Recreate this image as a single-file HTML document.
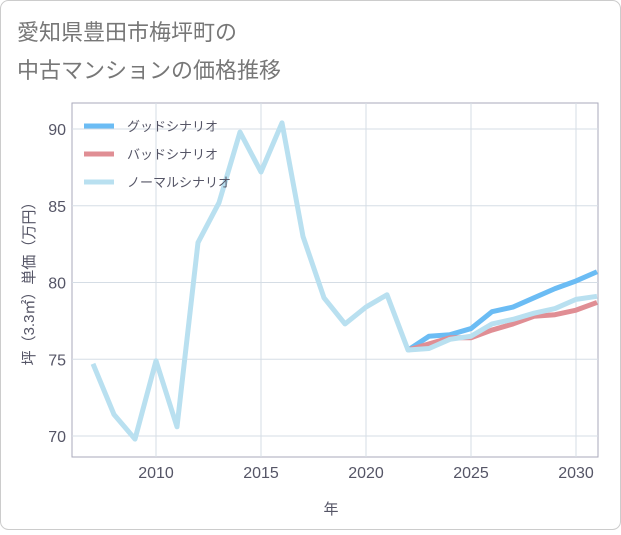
<!DOCTYPE html>
<html><head><meta charset="utf-8"><style>
body{margin:0;background:#fff;font-family:"Liberation Sans","Noto Sans CJK JP",sans-serif;}
#wrap{position:relative;width:621px;height:530px;}
</style></head><body>
<div id="wrap">
<svg id="svg" width="621" height="530" xmlns="http://www.w3.org/2000/svg" font-family="Liberation Sans, Noto Sans CJK JP, sans-serif">
<rect x="0.5" y="0.5" width="620" height="529" rx="8" fill="#fff" stroke="#ccc"/>
<text x="17" y="40" font-size="22" fill="#777">愛知県豊田市梅坪町の</text>
<text x="17" y="78" font-size="22" fill="#777">中古マンションの価格推移</text>
<rect x="72" y="103" width="526" height="354" fill="none" stroke="#aab"/>
<g id="grid"></g><g id="series"></g>
<text x="331" y="514" font-size="15" fill="#556" text-anchor="middle">年</text>
<text transform="translate(34,280) rotate(-90)" font-size="15" fill="#556" text-anchor="middle">坪（3.3㎡）単価（万円）</text>
<g>
<line x1="84" y1="126" x2="114" y2="126" stroke="#6bbcf4" stroke-width="5"/>
<text x="127" y="131" font-size="13" fill="#556">グッドシナリオ</text>
<line x1="84" y1="154" x2="114" y2="154" stroke="#e08e94" stroke-width="5"/>
<text x="127" y="159" font-size="13" fill="#556">バッドシナリオ</text>
<line x1="84" y1="182" x2="114" y2="182" stroke="#b9e0f0" stroke-width="5"/>
<text x="127" y="187" font-size="13" fill="#556">ノーマルシナリオ</text>
</g>
</svg></div>
<script>
const years=[2007,2008,2009,2010,2011,2012,2013,2014,2015,2016,2017,2018,2019,2020,2021,2022,2023,2024,2025,2026,2027,2028,2029,2030,2031];
const normal=[74.7,71.4,69.8,74.9,70.6,82.6,85.2,89.8,87.2,90.4,83.0,79.0,77.3,78.4,79.2,75.6,75.7,76.3,76.5,77.3,77.6,78.0,78.3,78.9,79.1];
const futureYears=[2022,2023,2024,2025,2026,2027,2028,2029,2030,2031];
const good=[75.6,76.5,76.6,77.0,78.1,78.4,79.0,79.6,80.1,80.7];
const bad=[75.6,76.0,76.4,76.4,76.9,77.3,77.8,77.9,78.2,78.7];
const xTicks=[2010,2015,2020,2025,2030];
const yTicks=[70,75,80,85,90];
const NS="http://www.w3.org/2000/svg";
const X=y=>156+(y-2010)*21;
const Y=v=>436-(v-70)*15.35;
const grid=document.getElementById('grid'),ser=document.getElementById('series');
function mk(tag,attrs,parent){const e=document.createElementNS(NS,tag);for(const k in attrs)e.setAttribute(k,attrs[k]);parent.appendChild(e);return e;}
xTicks.forEach(t=>{
const l=mk('line',{x1:X(t),x2:X(t),y1:103,y2:457,stroke:'#d5dde5'},grid);


const tx=mk('text',{x:X(t),y:478,'font-size':16,fill:'#556','text-anchor':'middle'},grid);tx.textContent=t;


});
yTicks.forEach(t=>{
const l=mk('line',{x1:72,x2:598,y1:Y(t),y2:Y(t),stroke:'#d5dde5'},grid);


const tx=mk('text',{x:66,y:Y(t)+6,'font-size':16,fill:'#556','text-anchor':'end'},grid);tx.textContent=t;


});
function line(xs,vs,color){return mk('polyline',{points:xs.map((y,i)=>X(y)+','+Y(vs[i])).join(' '),fill:'none',stroke:color,'stroke-width':5,'stroke-linejoin':'round'},ser);}
const g=line(futureYears,good,'#6bbcf4');


const b=line(futureYears,bad,'#e08e94');


const n=line(years,normal,'#b9e0f0');


</script>
</body></html>
